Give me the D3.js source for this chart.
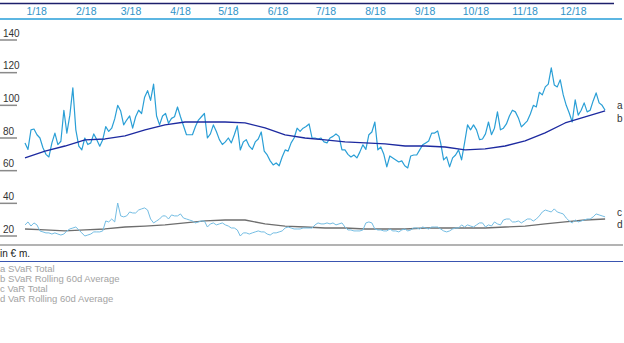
<!DOCTYPE html>
<html>
<head>
<meta charset="utf-8">
<script src="https://cdn.jsdelivr.net/npm/d3@7"></script>
<style>
  body { margin: 0; background: #fff; }
  svg text { font-family: "Liberation Sans", Arial, sans-serif; }
</style>
</head>
<body>
<div id="chart"></div>
<script>
// month ticks
var monthLabels = ["1/18","2/18","3/18","4/18","5/18","6/18","7/18","8/18","9/18","10/18","11/18","12/18"];
var yTicks = [20, 40, 60, 80, 100, 120, 140];

// a SVaR Total (daily)
var svarTotal = [
  77, 73, 85, 85.5, 82, 80, 74, 70, 68.4, 77,
  83, 76, 78, 97, 83, 94, 110.7, 85, 75, 72.7,
  80, 76, 77, 82.5, 79, 75, 79, 87, 84, 86,
  91.7, 100, 96.5, 88, 91, 93.5, 86, 93, 97, 95,
  105, 109, 103, 113, 93.5, 88, 93.5, 95, 89, 92,
  93, 99, 93, 87.5, 82, 82, 82, 87, 91, 93,
  95, 80, 82.5, 88, 84, 79, 76, 77.6, 80, 77,
  82, 87.5, 72.7, 77.6, 79, 75, 73, 77.6, 79.4, 83.7,
  72, 69.6, 66, 63.5, 64.7, 63, 68.4, 72.7, 72, 77,
  80, 86, 84, 86, 87, 88.6, 80, 80, 79.4, 80,
  77.6, 77, 80, 81, 82.5, 81, 72.7, 72.7, 70, 68.4,
  69.6, 67.8, 71.5, 75.8, 73, 82, 83.7, 89.8, 72.7, 74.5,
  70, 62.3, 69, 67.8, 66.6, 65.3, 66, 63, 61.7, 69,
  69.6, 69.6, 72.7, 75.8, 77, 78.2, 83, 83, 84.3, 77,
  66.6, 68.4, 62.3, 67.8, 69.6, 72.7, 66.6, 77, 88, 85,
  88, 85, 79, 79.4, 82.5, 89.8, 82, 86, 96, 85,
  86, 88.6, 93.5, 97, 96, 92.3, 86.8, 88.6, 90.5, 94.7,
  100, 99, 108, 106.4, 111.3, 113, 123, 112.5, 111.3, 115.6,
  106.4, 100, 95.3, 89.8, 103.3, 94, 97, 101.5, 96, 97,
  102.7, 107.6, 101.5, 100, 97
];

// b SVaR Rolling 60d Average
var svarAvg = [
  67.8, 72, 75.1, 78.8, 79.4, 81.3, 85, 88, 89.8, 89.8,
  89.8, 89.2, 86.2, 81.9, 80, 78.8, 77.6, 77, 76.4, 75.1,
  75.1, 74.5, 72.7, 73.3, 75.1, 78.2, 83.1, 89.2, 92.9, 96.6
];

// c VaR Total
var varTotal = [
  26.8, 28.6, 26.1, 28, 26.8, 23.1, 22.5, 21.9, 21.9, 21.2,
  21.9, 21.2, 20.6, 21.2, 23.1, 24.3, 24.9, 25.5, 23.7, 21.9,
  20, 20.6, 21.2, 22.5, 22.5, 22.5, 23.1, 29.2, 28.6, 30.4,
  28.6, 40.2, 32.3, 31.7, 32.3, 34.7, 34.1, 34.1, 35.9, 36.6,
  37.2, 35.9, 30.4, 28, 29.2, 30.4, 32.3, 32.3, 30.4, 32.9,
  32.3, 32.3, 33.5, 31, 30.4, 29.8, 29.2, 28, 28.6, 29.2,
  29.2, 25.5, 27.4, 28, 26.8, 27.4, 28, 26.8, 26.1, 24.9,
  24.9, 23.7, 20, 21.9, 21.9, 21.2, 21.9, 22.5, 23.1, 22.5,
  22.5, 21.2, 20.6, 21.9, 21.9, 22.5, 23.1, 24.9, 25.5, 24.9,
  24.3, 24.3, 24.3, 24.9, 24.9, 24.9, 24.9, 26.8, 28, 27.4,
  27.4, 28, 27.4, 28, 26.8, 27.4, 28, 25.5, 23.7, 23.7,
  23.1, 23.1, 23.1, 23.7, 28, 28.6, 28, 24.3, 23.7, 23.7,
  23.1, 23.1, 24.3, 23.1, 23.1, 22.5, 23.7, 24.3, 23.1, 23.7,
  24.9, 24.9, 24.3, 25.5, 24.9, 24.3, 25.5, 25.5, 25.5, 24.3,
  23.1, 22.5, 23.1, 24.3, 24.9, 24.9, 26.8, 25.5, 26.8, 26.1,
  25.5, 26.8, 28, 28, 25.5, 26.8, 26.1, 28.6, 27.4, 26.8,
  29.8, 30.4, 30.4, 28.6, 28.6, 29.2, 28, 29.2, 30.4, 30.4,
  29.2, 30.4, 32.3, 34.7, 35.9, 35.3, 34.7, 36.6, 34.7, 34.1,
  33.5, 31, 29.2, 28, 29.8, 28.6, 29.2, 29.8, 30.4, 30.4,
  31.7, 33.5, 32.9, 32.3, 31.7
];

// d VaR Rolling 60d Average
var varAvg = [
  24.3, 23.7, 23.1, 23.7, 24.3, 25.5, 26.1, 26.8, 28, 29.2,
  29.8, 29.8, 27.4, 26.1, 25.5, 24.9, 24.9, 24.3, 24.3, 24.3,
  24.9, 24.9, 24.9, 24.9, 25.5, 26.1, 27.4, 28.6, 29.8, 30.4
];

var seriesNames = ["a SVaR Total", "b SVaR Rolling 60d Average", "c VaR Total", "d VaR Rolling 60d Average"];
var endTags = ["a", "b", "c", "d"];

var W = 624, H = 343;
var svg = d3.select("#chart").append("svg")
    .attr("width", W)
    .attr("height", H);

var x = d3.scaleTime()
    .domain([new Date(2018, 0, 1), new Date(2019, 0, 1)])
    .range([25, 608.3]);
var firstDay = new Date(2018, 0, 1), lastDay = new Date(2018, 11, 30);

var y = d3.scaleLinear()
    .domain([20, 140])
    .range([236, 40]);

// top rules + month labels
svg.append("line").attr("x1", 0).attr("x2", 614).attr("y1", 3.5).attr("y2", 3.5)
    .attr("stroke", "#1c1f6b").attr("stroke-width", 1.5);
svg.append("line").attr("x1", 0).attr("x2", 622).attr("y1", 19).attr("y2", 19)
    .attr("stroke", "#5cb6e2").attr("stroke-width", 2);

svg.selectAll(".month")
    .data(monthLabels)
    .enter().append("text")
    .attr("class", "month")
    .attr("x", function(d, i) { return x(new Date(2018, i, 1)) + 1.5; })
    .attr("y", 15)
    .attr("fill", "#2f93c8")
    .style("font-size", "10.5px")
    .text(function(d) { return d; });

// y ticks (label above short rule)
var yt = svg.append("g").attr("class", "y axis");
yt.selectAll("line").data(yTicks).enter().append("line")
    .attr("x1", 0).attr("x2", 17)
    .attr("y1", function(d) { return y(d); })
    .attr("y2", function(d) { return y(d); })
    .attr("stroke", "#8a8a8a").attr("stroke-width", 1.5);
yt.selectAll("text").data(yTicks).enter().append("text")
    .attr("x", 3)
    .attr("y", function(d) { return y(d) - 3.5; })
    .attr("fill", "#333")
    .style("font-size", "10px")
    .text(function(d) { return d; });

// bottom rules
svg.append("line").attr("x1", 0).attr("x2", 623).attr("y1", 245).attr("y2", 245)
    .attr("stroke", "#9a9a9a").attr("stroke-width", 1.5);
svg.append("text").attr("x", 0).attr("y", 257)
    .attr("fill", "#222").style("font-size", "10px").text("in € m.");
svg.append("line").attr("x1", 0).attr("x2", 623).attr("y1", 261.5).attr("y2", 261.5)
    .attr("stroke", "#3a55b0").attr("stroke-width", 1);

svg.selectAll(".legend")
    .data(seriesNames)
    .enter().append("text")
    .attr("class", "legend")
    .attr("x", 0)
    .attr("y", function(d, i) { return 271.5 + i * 10.3; })
    .attr("fill", "#a3a3a3")
    .style("font-size", "9.5px")
    .text(function(d) { return d; });

function drawSeries(vals, color, width) {
    var xi = d3.scaleLinear()
        .domain([0, vals.length - 1])
        .range([x(firstDay), x(lastDay)]);
    var line = d3.line()
        .x(function(d, i) { return xi(i); })
        .y(function(d) { return y(d); });
    svg.append("path")
        .datum(vals)
        .attr("fill", "none")
        .attr("stroke", color)
        .attr("stroke-width", width)
        .attr("stroke-linejoin", "round")
        .attr("d", line);
}

drawSeries(varAvg, "#6e6e6e", 1.3);
drawSeries(varTotal, "#74bde3", 1);
drawSeries(svarTotal, "#2a9fd6", 1.2);
drawSeries(svarAvg, "#1d2aa0", 1.3);

// end tags
var tagY = [105, 118, 212, 224];
svg.selectAll(".tag")
    .data(endTags)
    .enter().append("text")
    .attr("class", "tag")
    .attr("x", 617)
    .attr("y", function(d, i) { return tagY[i] + 3.5; })
    .attr("fill", "#333")
    .style("font-size", "10px")
    .text(function(d) { return d; });
</script>
</body>
</html>
